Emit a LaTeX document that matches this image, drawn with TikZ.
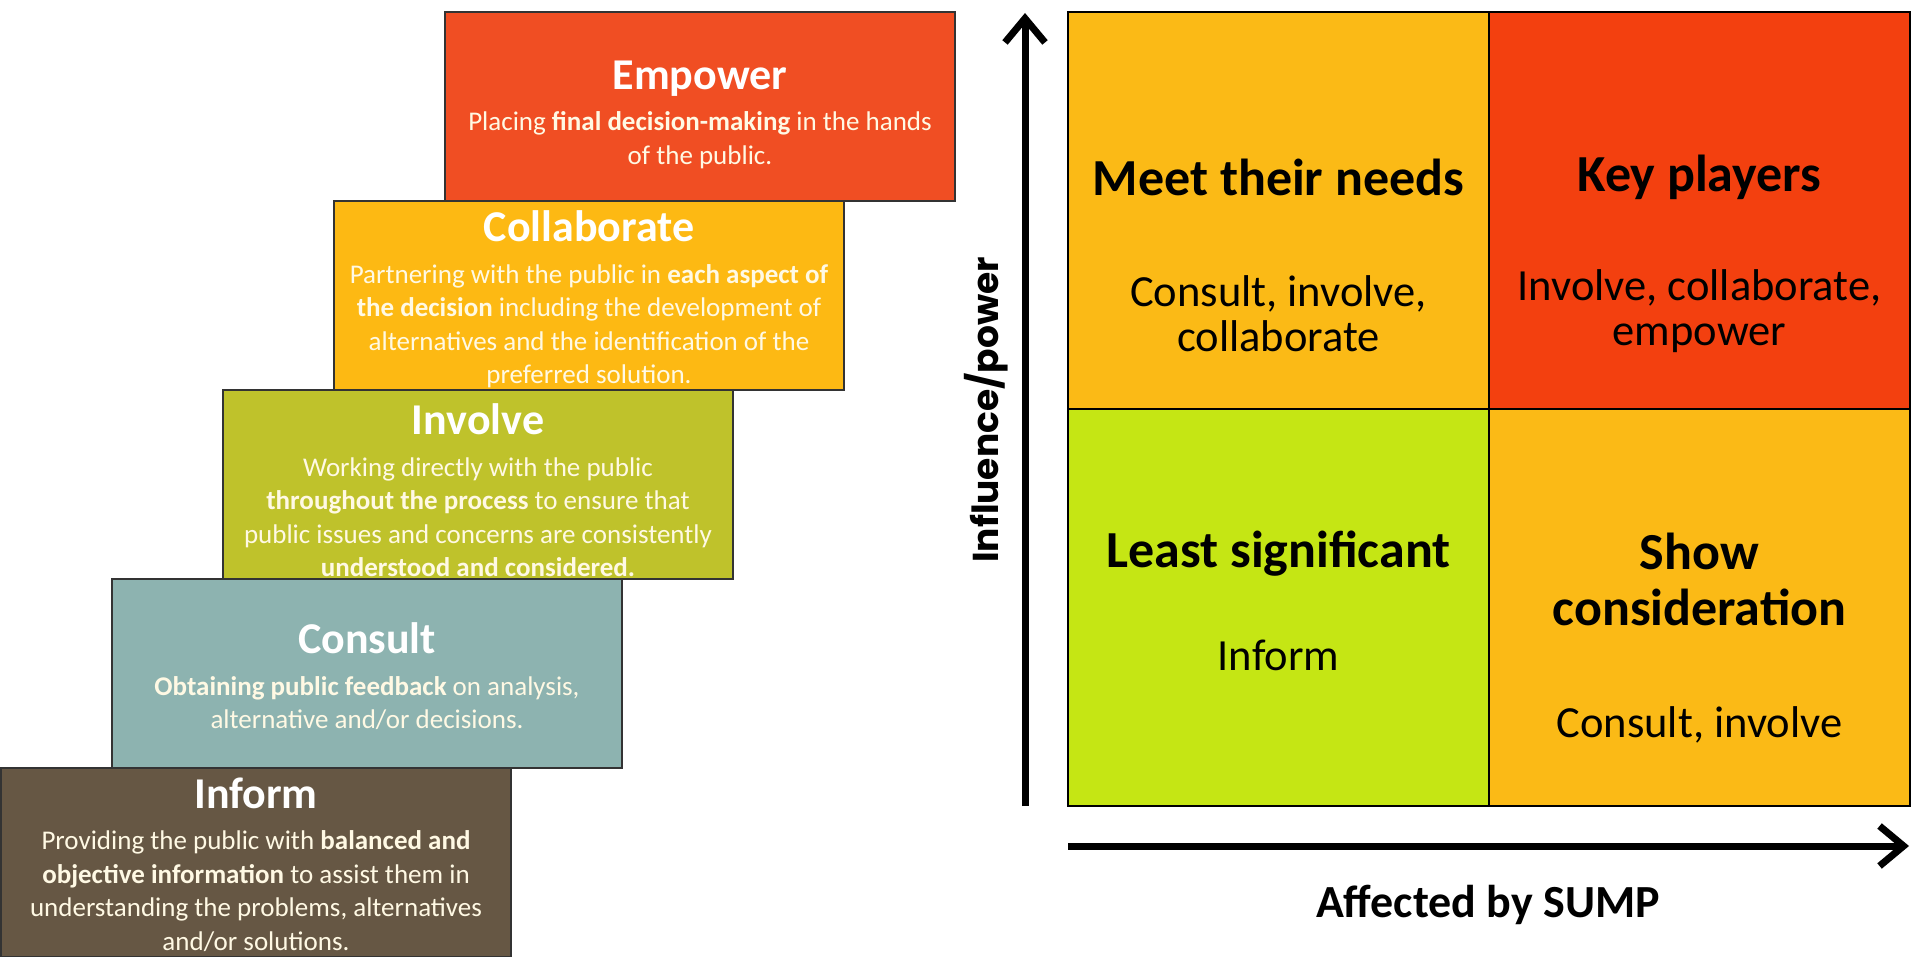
\documentclass[tikz,border=0pt]{standalone}
\usepackage{fontspec}
\setmainfont{Carlito}
\newfontfamily\axisfont{Poppins}
\usetikzlibrary{arrows.meta}
\usetikzlibrary{calc}
\usetikzlibrary{positioning}
\usepackage{xcolor}

\definecolor{empowercol}{RGB}{240,78,35}
\definecolor{collabcol}{RGB}{253,185,19}
\definecolor{involvecol}{RGB}{191,194,43}
\definecolor{consultcol}{RGB}{141,179,176}
\definecolor{informcol}{RGB}{102,87,68}
\definecolor{keycol}{RGB}{243,64,15}
\definecolor{meetcol}{RGB}{251,186,22}
\definecolor{leastcol}{RGB}{197,230,20}
\definecolor{creamtext}{RGB}{255,249,228}

\newcommand{\steptitle}{\fontsize{44}{48}\selectfont\bfseries\color{white}}

\tikzset{
  stepbox/.style={draw=black!80, line width=1.5pt, fill=#1, anchor=north west,
    minimum width=510pt, minimum height=189pt, inner sep=0pt, outer sep=0pt},
  steptext/.style={inner sep=0pt, align=center, text=creamtext,
    font=\fontsize{27}{33.5}\selectfont},
  cellbox/.style={draw=black, line width=1.5pt, fill=#1, anchor=north west,
    minimum width=421pt, minimum height=397pt, inner sep=0pt, outer sep=0pt},
  celltitle/.style={font=\fontsize{52}{56}\selectfont\bfseries, align=center},
  cellbody/.style={font=\fontsize{44.5}{45}\selectfont, align=center},
  axisarrow/.style={line width=7pt, -{Straight Barb[length=24pt,width=40pt]}}
}

\begin{document}
\begin{tikzpicture}[x=1pt,y=-1pt]
        \useasboundingbox (0,0) rectangle (1911,957);

        % Ladder
        \node[stepbox=empowercol] (empower) at (445,12) {};
        \node[stepbox=collabcol] (collaborate) at ($(empower.south west)+(-111,0)$) {};
        \node[stepbox=involvecol] (involve) at ($(collaborate.south west)+(-111,0)$) {};
        \node[stepbox=consultcol] (consult) at ($(involve.south west)+(-111,0)$) {};
        \node[stepbox=informcol] (inform) at ($(consult.south west)+(-111,0)$) {};

        \node[steptext] (empowertxt) at ($(empower.center)+(0,8)$)
          {{\steptitle Empower}\\[8pt]
           Placing \textbf{final decision-making} in the hands\\
           of the public.};
        \node[steptext] (collaboratetxt) at ($(collaborate.center)+(0,4)$)
          {{\steptitle Collaborate}\\[8pt]
           Partnering with the public in \textbf{each aspect of}\\
           \textbf{the decision} including the development of\\
           alternatives and the identification of the\\
           preferred solution.};
        \node[steptext] (involvetxt) at ($(involve.center)+(0,6)$)
          {{\steptitle Involve}\\[8pt]
           Working directly with the public\\
           \textbf{throughout the process} to ensure that\\
           public issues and concerns are consistently\\
           \textbf{understood and considered.}};
        \node[steptext] (consulttxt) at ($(consult.center)+(0,3)$)
          {{\steptitle Consult}\\[8pt]
           \textbf{Obtaining public feedback} on analysis,\\
           alternative and/or decisions.};
        \node[steptext] (informtxt) at ($(inform.center)+(0,2)$)
          {{\steptitle Inform}\\[8pt]
           Providing the public with \textbf{balanced and}\\
           \textbf{objective information} to assist them in\\
           understanding the problems, alternatives\\
           and/or solutions.};

        % Grid
        \node[cellbox=meetcol] (meet) at (1068,12) {};
        \node[cellbox=keycol] (key) at (meet.north east) {};
        \node[cellbox=leastcol] (least) at (meet.south west) {};
        \node[cellbox=meetcol] (show) at (meet.south east) {};

        \node[celltitle] (meettitle) at ($(meet.north)+(0,165)$) {Meet their needs};
        \node[cellbody] (meetbody) at ($(meet.north)+(0,302)$) {Consult, involve,\\collaborate};
        \node[celltitle] (keytitle) at ($(key.north)+(0,165)$) {Key players};
        \node[cellbody] (keybody) at ($(key.north)+(0,299)$) {Involve, collaborate,\\empower};
        \node[celltitle] (leasttitle) at ($(least.north)+(0,145)$) {Least significant};
        \node[cellbody] (leastbody) at ($(least.north)+(0,246)$) {Inform};
        \node[celltitle] (showtitle) at ($(show.north)+(0,170)$) {Show\\consideration};
        \node[cellbody] (showbody) at ($(show.north)+(0,316)$) {Consult, involve};

        % Axes
        \coordinate (vbot) at ($(least.south west)+(-43,0)$);
        \coordinate (vtop) at ($(meet.north west)+(-43,1)$);
        \coordinate (hleft) at ($(least.south west)+(0,40)$);
        \coordinate (hright) at ($(show.south east)+(-1,40)$);
        \draw[axisarrow] (vbot) -- (vtop);
        \draw[axisarrow] (hleft) -- (hright);

        \node[rotate=90, font=\axisfont\fontsize{36}{36}\selectfont\bfseries] (ylabel) at (986,410) {Influence/power};
        \node[font=\fontsize{46}{46}\selectfont\bfseries] (xlabel) at (1488,905) {Affected by SUMP};
\end{tikzpicture}
\end{document}
